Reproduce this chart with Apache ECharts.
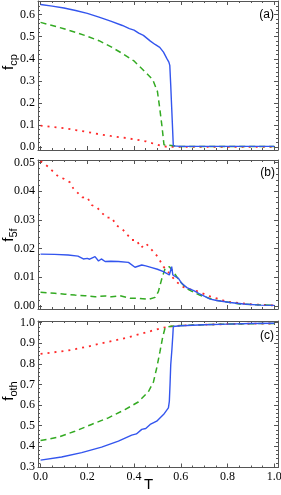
<!DOCTYPE html>
<html><head><meta charset="utf-8">
<script src="https://cdn.jsdelivr.net/npm/echarts@6/dist/echarts.min.js"></script>
<style>html,body{margin:0;padding:0;background:#fff}#c{width:281px;height:495px}</style>
</head><body><div id="c"></div>
<script>
// ---------- Panel (a): f_cp ----------
const aBlueT = [0,0.05,0.1,0.15,0.2,0.25,0.3,0.35,0.38,0.4,0.42,0.44,0.47,0.49,0.51,0.526,0.54,0.549,0.553,0.557,0.561,0.565,0.568,0.6,0.7,0.8,0.9,1.0];
const aBlueV = [0.646,0.639,0.630,0.619,0.606,0.589,0.571,0.551,0.537,0.530,0.516,0.506,0.480,0.465,0.452,0.430,0.402,0.385,0.370,0.28,0.18,0.08,0.005,0.003,0.003,0.003,0.003,0.003];
const aGreenT = [0,0.05,0.1,0.15,0.2,0.25,0.3,0.35,0.4,0.45,0.48,0.5,0.51,0.52,0.528,0.535,0.6,0.8,1.0];
const aGreenV = [0.565,0.551,0.536,0.520,0.502,0.482,0.455,0.424,0.390,0.338,0.305,0.252,0.175,0.090,0.010,0.002,0.002,0.002,0.002];
const aRedT = [0,0.05,0.1,0.15,0.2,0.25,0.3,0.35,0.4,0.45,0.49,0.52,0.54,0.6,0.8,1.0];
const aRedV = [0.097,0.091,0.085,0.077,0.068,0.058,0.050,0.043,0.035,0.026,0.013,0.004,0.001,0.001,0.001,0.001];

// ---------- Panel (b): f_5f ----------
const bBlueT = [0,0.06,0.118,0.16,0.183,0.2,0.21,0.233,0.248,0.26,0.276,0.3,0.333,0.376,0.404,0.433,0.45,0.476,0.5,0.526,0.551,0.556,0.561,0.566,0.59,0.604,0.626,0.66,0.683,0.726,0.754,0.811,0.869,0.94,1.0];
const bBlueV = [0.0181,0.0180,0.0178,0.0174,0.0164,0.0166,0.0163,0.0172,0.0157,0.0164,0.0155,0.0156,0.0155,0.0152,0.0135,0.0143,0.0140,0.0134,0.0128,0.0120,0.0108,0.0112,0.0137,0.0108,0.0096,0.0079,0.0064,0.0052,0.0041,0.0024,0.0019,0.0012,0.0007,0.0003,0.0002];
const bGreenT = [0,0.061,0.104,0.147,0.19,0.233,0.276,0.304,0.34,0.383,0.419,0.461,0.49,0.504,0.519,0.533,0.551,0.568,0.597,0.626,0.683,0.75,0.85,1.0];
const bGreenV = [0.0048,0.0044,0.0041,0.0038,0.0036,0.0032,0.0035,0.0032,0.0036,0.0027,0.0027,0.0023,0.0030,0.0050,0.0096,0.0131,0.0137,0.0120,0.0085,0.0060,0.0037,0.0020,0.0007,0.0002];
const bRedT = [0,0.033,0.054,0.078,0.101,0.126,0.14,0.178,0.2,0.218,0.24,0.261,0.283,0.305,0.323,0.35,0.369,0.39,0.41,0.43,0.451,0.473,0.501,0.526,0.55,0.58,0.611,0.64,0.676,0.72,0.76,0.797,0.85,0.9,0.95,1.0];
const bRedV = [0.0505,0.0485,0.0468,0.0450,0.0443,0.0431,0.0410,0.0379,0.0379,0.0352,0.0345,0.0326,0.0308,0.0308,0.0282,0.0268,0.0251,0.0230,0.0230,0.0203,0.0218,0.0198,0.0172,0.0137,0.0115,0.0085,0.0066,0.0058,0.0050,0.0035,0.0025,0.0015,0.0010,0.0006,0.0004,0.0002];

// ---------- Panel (c): f_oth ----------
const cBlueT = [0,0.09,0.176,0.261,0.333,0.39,0.41,0.433,0.45,0.469,0.497,0.526,0.547,0.551,0.554,0.557,0.562,0.566,0.568,0.6,0.7,0.8,0.9,1.0];
const cBlueV = [0.333,0.348,0.369,0.396,0.425,0.454,0.460,0.482,0.486,0.506,0.522,0.554,0.586,0.618,0.700,0.796,0.870,0.940,0.981,0.985,0.990,0.993,0.996,0.997];
const cGreenT = [0,0.076,0.147,0.218,0.29,0.361,0.418,0.461,0.483,0.497,0.511,0.523,0.533,0.56,0.6,0.7,0.8,0.9,1.0];
const cGreenV = [0.428,0.444,0.473,0.506,0.538,0.578,0.615,0.664,0.712,0.780,0.860,0.932,0.976,0.983,0.986,0.990,0.993,0.995,0.996];
const cRedT = [0,0.05,0.118,0.15,0.218,0.25,0.318,0.35,0.404,0.45,0.49,0.526,0.56,0.6,0.7,0.8,0.9,1.0];
const cRedV = [0.848,0.855,0.865,0.872,0.888,0.897,0.914,0.922,0.938,0.952,0.965,0.976,0.982,0.986,0.990,0.993,0.995,0.996];

// ---------- ticks & labels ----------
const xTicks = [0,0.2,0.4,0.6,0.8,1.0];
const aTicks = [0,0.1,0.2,0.3,0.4,0.5,0.6];
const bTicks = [0,0.01,0.02,0.03,0.04,0.05];
const cTicks = [0.3,0.4,0.5,0.6,0.7,0.8,0.9,1.0];
const panelLabels = ['(a)','(b)','(c)'];
const yNames = [['f','cp'],['f','5f'],['f','oth']];
const xName = 'T';

const pairs = (T, V) => T.map((t, i) => [t, V[i]]);
function minorOf(major, n, lo, hi) {
  const step = (major[1] - major[0]) / n, out = [];
  for (let v = major[0] - 5 * n * step; v <= major[major.length - 1] + 5 * n * step + 1e-9; v += step) {
    const r = Math.round(v / step) * step;
    if (r > lo && r < hi && !major.some(m => Math.abs(m - r) < step / 10)) out.push(+r.toFixed(6));
  }
  return out;
}

const FRAME = '#555';
const X_EXT = [-0.011, 1.016];
const Y_EXT = [[-0.0136, 0.662], [-0.00105, 0.0509], [0.297, 1.008]];
const yMajor = [aTicks, bTicks, cTicks];
const yDigits = [1, 2, 1];
const ySub = [5, 5, 5];
const grids = [
  {left: 38, top: 1, width: 240, height: 149, outerBoundsMode: 'none', containLabel: false},
  {left: 38, top: 160, width: 240, height: 149, outerBoundsMode: 'none', containLabel: false},
  {left: 38, top: 321, width: 240, height: 146.5, outerBoundsMode: 'none', containLabel: false}
];
const xMinor = minorOf(xTicks, 4, X_EXT[0], X_EXT[1]);
const labelFont = {fontFamily: 'Liberation Serif', fontSize: 12, color: '#000'};

const xAxis = [], yAxis = [];
grids.forEach((g, gi) => {
  const xb = {gridIndex: gi, type: 'value', min: X_EXT[0], max: X_EXT[1], splitLine: {show: false}};
  ['bottom', 'top'].forEach(pos => {
    xAxis.push(Object.assign({}, xb, {
      position: pos,
      axisLine: {show: true, onZero: false, lineStyle: {color: FRAME, width: 1}},
      axisTick: {show: true, inside: true, length: 4, customValues: xTicks, lineStyle: {color: FRAME}},
      axisLabel: Object.assign({show: gi === 2 && pos === 'bottom', customValues: xTicks, margin: 3,
        formatter: v => v.toFixed(1)}, labelFont)
    }));
    xAxis.push(Object.assign({}, xb, {
      position: pos,
      axisLine: {show: false, onZero: false},
      axisTick: {show: true, inside: true, length: 2, customValues: xMinor, lineStyle: {color: FRAME}},
      axisLabel: {show: false}
    }));
  });
  const ext = Y_EXT[gi];
  const ym = yMajor[gi];
  const yMin = minorOf(ym, ySub[gi], ext[0], ext[1]);
  const yb = {gridIndex: gi, type: 'value', min: ext[0], max: ext[1], splitLine: {show: false}};
  ['left', 'right'].forEach(pos => {
    yAxis.push(Object.assign({}, yb, {
      position: pos,
      axisLine: {show: true, onZero: false, lineStyle: {color: FRAME, width: 1}},
      axisTick: {show: true, inside: true, length: 4, customValues: ym, lineStyle: {color: FRAME}},
      axisLabel: Object.assign({show: pos === 'left', customValues: ym, margin: 3,
        formatter: v => v.toFixed(yDigits[gi])}, labelFont)
    }));
    yAxis.push(Object.assign({}, yb, {
      position: pos,
      axisLine: {show: false, onZero: false},
      axisTick: {show: true, inside: true, length: 2, customValues: yMin, lineStyle: {color: FRAME}},
      axisLabel: {show: false}
    }));
  });
});

const BLUE = '#3355ee', GREEN = '#33aa22', RED = '#ff2a2a';
const panels = [
  [aRedT, aRedV, aGreenT, aGreenV, aBlueT, aBlueV],
  [bRedT, bRedV, bGreenT, bGreenV, bBlueT, bBlueV],
  [cRedT, cRedV, cGreenT, cGreenV, cBlueT, cBlueV]
];
const series = [];
panels.forEach((p, gi) => {
  const common = {type: 'line', xAxisIndex: 4 * gi, yAxisIndex: 4 * gi, showSymbol: false, symbol: 'none', silent: true, animation: false, clip: true};
  series.push(Object.assign({}, common, {data: pairs(p[0], p[1]), lineStyle: {color: RED, width: 1.8, type: [2, 5]}}));
  series.push(Object.assign({}, common, {data: pairs(p[2], p[3]), lineStyle: {color: GREEN, width: 1.5, type: [6, 4]}}));
  series.push(Object.assign({}, common, {data: pairs(p[4], p[5]), lineStyle: {color: BLUE, width: 1.4}}));
});

const nameRich = {
  f: {fontFamily: 'Liberation Sans', fontSize: 15, fill: '#000', lineHeight: 18, padding: [0, 0, 3, 0], verticalAlign: 'bottom'},
  s: {fontFamily: 'Liberation Sans', fontSize: 11, fill: '#000', lineHeight: 12, verticalAlign: 'bottom'}
};
const nameY = [62, 235, 391];
const graphic = [
  {type: 'text', right: 7, top: 9, style: {text: panelLabels[0], font: '12px Liberation Sans', fill: '#000'}},
  {type: 'text', right: 6, top: 167, style: {text: panelLabels[1], font: '12px Liberation Sans', fill: '#000'}},
  {type: 'text', right: 7, top: 330, style: {text: panelLabels[2], font: '12px Liberation Sans', fill: '#000'}},
  {type: 'text', left: 144, top: 477, style: {text: xName, font: '15px Liberation Sans', fill: '#000'}}
].concat(yNames.map((n, i) => ({
  type: 'text', x: 10, y: nameY[i], rotation: Math.PI / 2,
  style: {text: '{f|' + n[0] + '}{s|' + n[1] + '}', rich: nameRich, align: 'center', verticalAlign: 'middle'}
})));

const chart = echarts.init(document.getElementById('c'), null, {renderer: 'canvas'});
chart.setOption({animation: false, backgroundColor: '#fff', grid: grids, xAxis, yAxis, series, graphic});
</script></body></html>
